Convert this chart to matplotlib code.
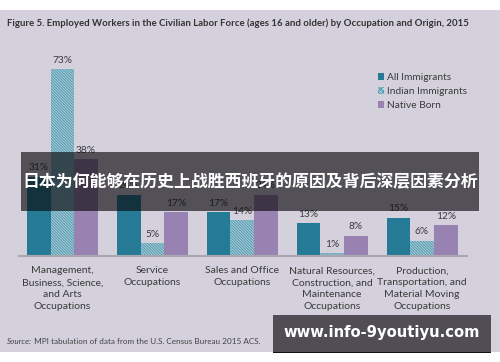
import matplotlib
matplotlib.use("Agg")
import matplotlib.pyplot as plt
from matplotlib.patches import Rectangle, Patch
import numpy as np

categories = ["Management,\nBusiness, Science,\nand Arts\nOccupations",
              "Service\nOccupations",
              "Sales and Office\nOccupations",
              "Natural Resources,\nConstruction, and\nMaintenance\nOccupations",
              "Production,\nTransportation, and\nMaterial Moving\nOccupations"]
series_names = ["All Immigrants", "Indian Immigrants", "Native Born"]
all_imm = [31, 24, 17, 13, 15]
indian_imm = [73, 5, 14, 1, 6]
native_born = [38, 17, 24, 8, 12]

title = "Figure 5. Employed Workers in the Civilian Labor Force (ages 16 and older) by Occupation and Origin, 2015"
source_label = "Source:"
source_text = " MPI tabulation of data from the U.S. Census Bureau 2015 ACS."
banner_text = "日本为何能够在历史上战胜西班牙的原因及背后深层因素分析"
watermark = "www.info-9youtiyu.com"

W, H = 500, 362
BG = "#d4d1dc"
TEAL = "#257b95"
PURPLE = "#9882b1"
HATCHFACE = "#5d9fb4"
HATCHLINE = "#c9dee6"
TXT = "#3a3a3a"

plt.rcParams['font.family'] = ['Lato', 'DejaVu Sans']
plt.rcParams['hatch.linewidth'] = 0.45

fig = plt.figure(figsize=(W / 100, H / 100), dpi=100)
fig.patch.set_facecolor("white")

def fx(px):
    return px / W

def fy(py):
    return 1 - py / H

# lavender background panel
fig.patches.append(Rectangle((0, fy(352)), 1, (352 - 10) / H, transform=fig.transFigure,
                             facecolor=BG, edgecolor="none", zorder=-5))

ax = fig.add_axes([fx(19), fy(256), (467 - 19) / W, 204.8 / H])
ax.set_zorder(1)
ax.set_facecolor("none")
ax.set_xlim(-0.483, 4.5)
ax.set_ylim(0, 80)
for s in ["top", "right", "left"]:
    ax.spines[s].set_visible(False)
ax.spines["bottom"].set_color("#a9a7b0")
ax.spines["bottom"].set_linewidth(1.5)
ax.set_yticks([])
ax.set_xticks([])

x = np.arange(len(categories))
bw = 0.263
b1 = ax.bar(x - bw, all_imm, bw, color=TEAL, edgecolor="none", zorder=2)
b2 = ax.bar(x, indian_imm, bw, color=HATCHFACE, edgecolor=HATCHLINE, linewidth=0,
            hatch="\\" * 12, zorder=2)
b3 = ax.bar(x + bw, native_born, bw, color=PURPLE, edgecolor="none", zorder=2)

for bars, vals in [(b1, all_imm), (b2, indian_imm), (b3, native_born)]:
    for rect, v in zip(bars, vals):
        ax.annotate(f"{v}%", (rect.get_x() + rect.get_width() / 2, v),
                    xytext=(0, 3), textcoords="offset points", ha="center", va="bottom",
                    fontsize=7.3, color=TXT, zorder=3)

for xi, cat in zip(x, categories):
    ax.annotate(cat, (xi, 0), xytext=(0, -7.5), textcoords="offset points",
                ha="center", va="top", fontsize=7.5, color=TXT, linespacing=1.4,
                annotation_clip=False)

handles = [Patch(facecolor=TEAL, edgecolor="none"),
           Patch(facecolor=HATCHFACE, edgecolor=HATCHLINE, linewidth=0, hatch="xxxxxx"),
           Patch(facecolor=PURPLE, edgecolor="none")]
fig.legend(handles, series_names, loc="upper left", bbox_to_anchor=(fx(374), fy(69)),
           frameon=False, fontsize=7.3, handlelength=0.6, handleheight=0.6,
           handletextpad=0.3, labelspacing=0.5, labelcolor=TXT, borderaxespad=0)

fig.text(fx(7), fy(23), title, ha="left", va="center", fontsize=6.9,
         fontweight="bold", color="#333333")

t1 = fig.text(fx(7), fy(341), source_label, ha="left", va="center", fontsize=5.9,
              style="italic", color="#444444")
fig.canvas.draw()
bb = t1.get_window_extent()
fig.text(bb.x1 / W, fy(341), source_text, ha="left", va="center", fontsize=5.9,
         color="#444444")

# overlay banner
fig.patches.append(Rectangle((fx(21), fy(211)), (479 - 21) / W, (211 - 152) / H,
                             transform=fig.transFigure, facecolor="#0a090c", alpha=0.64,
                             edgecolor="none", zorder=5))
fig.text(fx(250), fy(182), banner_text, ha="center", va="center", fontsize=12.2,
         fontweight="bold", color="white", family=["Noto Sans CJK SC", "DejaVu Sans"],
         zorder=6)

# watermark box
fig.patches.append(Rectangle((fx(273), fy(352)), (491 - 273) / W, (352 - 315) / H,
                             transform=fig.transFigure, facecolor="#504e54",
                             edgecolor="none", zorder=5))
fig.patches.append(Rectangle((fx(273), fy(353)), (491 - 273) / W, 1.2 / H,
                             transform=fig.transFigure, facecolor="#111111",
                             edgecolor="none", zorder=5))
fig.text(fx(382), fy(333), watermark, ha="center", va="center", fontsize=10.6,
         fontweight="bold", color="white", family=["DejaVu Sans"], zorder=6)

fig.savefig("out.png", dpi=100, facecolor=fig.get_facecolor())
